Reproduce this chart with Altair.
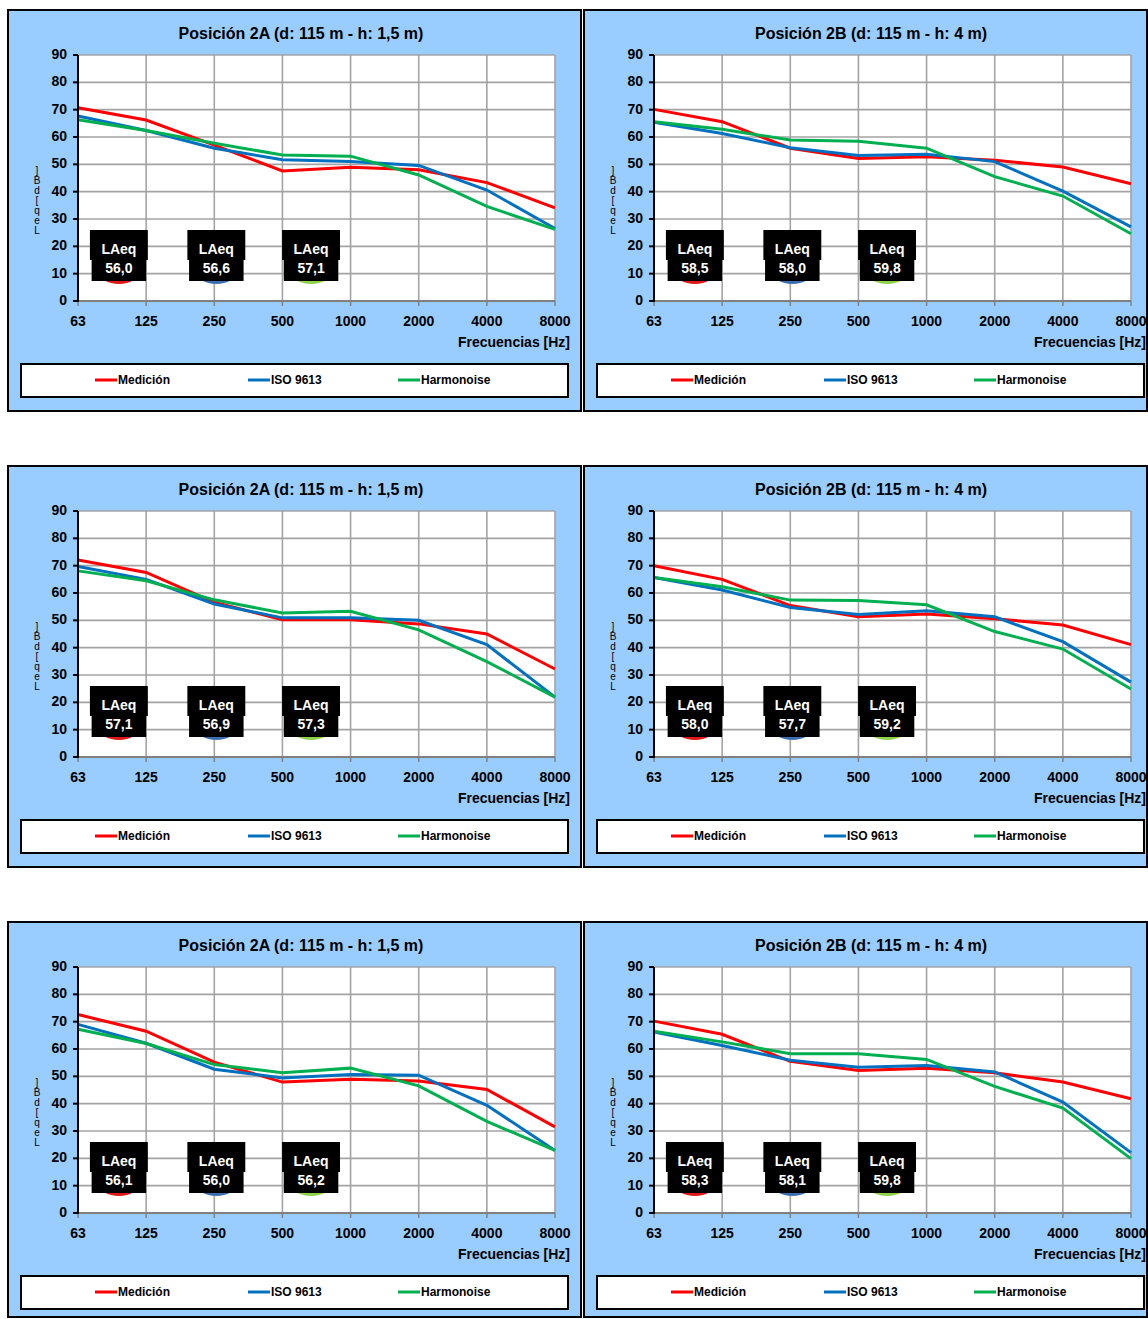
import altair as alt
import pandas as pd

# ---- data -----------------------------------------------------------------
FREQ_LABELS = ["63", "125", "250", "500", "1000", "2000", "4000", "8000"]
SERIES = ["Medición", "ISO 9613", "Harmonoise"]
Y_TICKS = [0, 10, 20, 30, 40, 50, 60, 70, 80, 90]

TITLES = [
    "Posición 2A (d: 115 m - h: 1,5 m)",
    "Posición 2B (d: 115 m - h: 4 m)",
    "Posición 2A (d: 115 m - h: 1,5 m)",
    "Posición 2B (d: 115 m - h: 4 m)",
    "Posición 2A (d: 115 m - h: 1,5 m)",
    "Posición 2B (d: 115 m - h: 4 m)",
]

# Spectra per panel (dB), one value per octave band
MEDICION = [
    [70.7, 66.2, 57.0, 47.6, 48.9, 48.0, 43.3, 34.1],
    [70.1, 65.6, 55.9, 52.1, 52.8, 51.5, 49.0, 42.9],
    [72.1, 67.5, 56.6, 50.2, 50.2, 48.7, 45.0, 32.2],
    [70.0, 65.0, 55.4, 51.3, 52.3, 50.6, 48.3, 41.1],
    [72.6, 66.5, 55.2, 47.9, 48.9, 48.3, 45.2, 31.5],
    [70.2, 65.4, 55.5, 52.1, 53.0, 51.3, 47.9, 41.8],
]
ISO_9613 = [
    [67.7, 62.4, 55.9, 51.7, 51.0, 49.6, 40.6, 26.5],
    [65.4, 61.3, 56.1, 53.2, 53.7, 51.0, 40.2, 27.1],
    [69.7, 65.0, 56.0, 50.9, 50.9, 50.0, 41.1, 21.9],
    [65.7, 61.1, 54.7, 52.1, 53.5, 51.3, 42.2, 27.4],
    [69.0, 62.1, 52.6, 49.4, 50.7, 50.4, 39.4, 22.9],
    [66.2, 61.3, 55.9, 53.3, 54.0, 51.6, 40.6, 22.1],
]
HARMONOISE = [
    [66.3, 62.4, 57.7, 53.4, 53.0, 46.1, 34.6, 26.2],
    [65.6, 62.8, 58.9, 58.4, 55.9, 45.5, 38.4, 24.6],
    [68.1, 64.5, 57.5, 52.7, 53.3, 46.5, 34.9, 21.9],
    [65.7, 62.3, 57.4, 57.3, 55.7, 45.9, 39.5, 24.9],
    [67.2, 62.0, 54.3, 51.3, 53.0, 46.5, 33.5, 22.9],
    [66.5, 62.6, 58.3, 58.3, 56.2, 46.3, 38.4, 19.9],
]
# Global LAeq per panel: Medición, ISO 9613, Harmonoise
LAEQ = [
    [56.0, 56.6, 57.1],
    [58.5, 58.0, 59.8],
    [57.1, 56.9, 57.3],
    [58.0, 57.7, 59.2],
    [56.1, 56.0, 56.2],
    [58.3, 58.1, 59.8],
]

# ---- styling ----------------------------------------------------------------
W, H = 477, 246
FONT = "Liberation Sans, Arial, sans-serif"
NARROW = "Liberation Sans Narrow, Liberation Sans, Arial, sans-serif"
LINE_COLORS = ["#FF0000", "#0070C0", "#00B050"]
BADGE_COLORS = ["#E01818", "#3D6DB3", "#8CD24A"]
BADGE_X = [0.60, 2.03, 3.42]       # badge centres along the band axis
LEGEND_X = [17, 170, 320]          # legend entry offsets inside the box
PANEL_BG = "#99CCFF"
GRID = "#A3A3A3"
AXIS_GRAY = "#808080"

x_scale = alt.Scale(domain=[0, 7], nice=False, zero=False)
y_scale = alt.Scale(domain=[0, 90], nice=False, zero=False)
color_scale = alt.Scale(domain=SERIES, range=LINE_COLORS)
one = pd.DataFrame({"k": [0]})
x_ticks_df = pd.DataFrame({"idx": list(range(len(FREQ_LABELS))), "freq": FREQ_LABELS})
y_ticks_df = pd.DataFrame({"v": Y_TICKS})


def X(field):
    return alt.X(field, scale=x_scale, axis=None)


def Y(field):
    return alt.Y(field, scale=y_scale, axis=None)


def panel(i):
    right = i % 2 == 1
    bottom_row = i >= 4

    rows = []
    for s, vals in zip(SERIES, (MEDICION[i], ISO_9613[i], HARMONOISE[i])):
        for j, v in enumerate(vals):
            rows.append({"idx": j, "freq": FREQ_LABELS[j], "serie": s, "value": v})
    lines_df = pd.DataFrame(rows)

    badges_df = pd.DataFrame({"pos": BADGE_X, "laeq": LAEQ[i], "fillc": BADGE_COLORS})
    badges = alt.Chart(badges_df).transform_calculate(
        txt="replace(format(datum.laeq, '.1f'), '.', ',')",
        ux1="datum.pos - 0.425", ux2="datum.pos + 0.425",
        lx1="datum.pos - 0.40", lx2="datum.pos + 0.40",
        uy1="15", uy2="26", ly1="7.3", ly2="16.5",
        ey="10.6", t1="18.7", t2="11.7",
    )

    # panel frame and white plotting area
    bg = alt.Chart(one).mark_rect(fill=PANEL_BG, stroke="black", strokeWidth=2).encode(
        x=alt.value(-70), x2=alt.value(493 if right else 503),
        y=alt.value(-45), y2=alt.value(350 if bottom_row else 356),
    )
    plot_bg = alt.Chart(one).mark_rect(fill="white").encode(
        x=alt.value(0), x2=alt.value(W), y=alt.value(0), y2=alt.value(H)
    )

    # grid
    grid_h = alt.Chart(y_ticks_df).transform_filter("datum.v > 0").mark_rule(
        color=GRID, strokeWidth=1.6
    ).encode(y=Y("v:Q"))
    grid_v = alt.Chart(x_ticks_df).transform_filter("datum.idx > 0").mark_rule(
        color=GRID, strokeWidth=1.6
    ).encode(x=X("idx:Q"))

    # axes: domain lines, ticks and labels
    x_dom = alt.Chart(one).mark_rule(color=AXIS_GRAY, strokeWidth=2).encode(
        x=alt.value(0), x2=alt.value(W), y=alt.value(H)
    )
    x_tick = alt.Chart(x_ticks_df).mark_rule(color=AXIS_GRAY, strokeWidth=1.5).encode(
        x=X("idx:Q"), y=alt.value(H), y2=alt.value(H + 5)
    )
    x_lab = alt.Chart(x_ticks_df).mark_text(
        font=FONT, fontSize=14, fontWeight="bold", color="black",
        align="center", baseline="middle",
    ).encode(x=X("idx:Q"), y=alt.value(H + 21), text="freq:N")
    y_dom = alt.Chart(one).mark_rule(color="black", strokeWidth=2).encode(
        x=alt.value(0), y=alt.value(0), y2=alt.value(H + 1)
    )
    y_tick = alt.Chart(y_ticks_df).mark_rule(color="black", strokeWidth=2).encode(
        x=alt.value(-5), x2=alt.value(0), y=Y("v:Q")
    )
    y_lab = alt.Chart(y_ticks_df).mark_text(
        font=FONT, fontSize=14, fontWeight="bold", color="black",
        align="right", baseline="middle",
    ).encode(x=alt.value(-11), y=Y("v:Q"), text="v:Q")

    lines = alt.Chart(lines_df).mark_line(strokeWidth=3).encode(
        x=X("idx:Q"),
        y=Y("value:Q"),
        color=alt.Color("serie:N", scale=color_scale, legend=None),
        order=alt.Order("idx:Q"),
    )

    ellipse = "M -1 0 A 1 0.6 0 1 0 1 0 A 1 0.6 0 1 0 -1 0 Z"
    blobs = badges.mark_point(shape=ellipse, filled=True, opacity=1, size=1600).encode(
        x=X("pos:Q"), y=Y("ey:Q"), fill=alt.Fill("fillc:N", scale=None),
    )
    box_up = badges.mark_rect(color="black").encode(
        x=X("ux1:Q"), x2="ux2:Q", y=Y("uy1:Q"), y2="uy2:Q",
    )
    box_low = badges.mark_rect(color="black").encode(
        x=X("lx1:Q"), x2="lx2:Q", y=Y("ly1:Q"), y2="ly2:Q",
    )
    txt_head = badges.mark_text(
        text="LAeq", color="white", font=NARROW, fontSize=14, fontWeight="bold",
        baseline="middle",
    ).encode(x=X("pos:Q"), y=Y("t1:Q"))
    txt_val = badges.mark_text(
        color="white", font=NARROW, fontSize=14, fontWeight="bold", baseline="middle",
    ).encode(x=X("pos:Q"), y=Y("t2:Q"), text="txt:N")

    title = alt.Chart(one).mark_text(
        text=TITLES[i], font=FONT, fontSize=16, fontWeight="bold", color="black",
        align="center", baseline="middle",
    ).encode(x=alt.value(217 if right else 223), y=alt.value(-21))

    # stacked vertical axis caption
    y_title = alt.Chart(one).mark_text(
        text=["]", "B", "d", "[", "q", "e", "L"], font=FONT, fontSize=10,
        lineHeight=10, color="black", align="center", baseline="middle",
    ).encode(x=alt.value(-41), y=alt.value(116))

    x_title = alt.Chart(one).mark_text(
        text="Frecuencias [Hz]", font=FONT, fontSize=14, fontWeight="bold",
        color="black", align="right", baseline="middle",
    ).encode(x=alt.value(492), y=alt.value(288))

    legend_box = alt.Chart(one).mark_rect(fill="white", stroke="black", strokeWidth=2).encode(
        x=alt.value(-57), x2=alt.value(490), y=alt.value(309), y2=alt.value(342)
    )
    legend_layers = []
    for k, s in enumerate(SERIES):
        lx = LEGEND_X[k]
        legend_layers.append(
            alt.Chart(one).mark_rule(color=LINE_COLORS[k], strokeWidth=3).encode(
                x=alt.value(lx), x2=alt.value(lx + 22), y=alt.value(325)
            )
        )
        legend_layers.append(
            alt.Chart(one).mark_text(
                text=s, font=FONT, fontSize=12, fontWeight="bold", color="black",
                align="left", baseline="middle",
            ).encode(x=alt.value(lx + 23), y=alt.value(325))
        )

    return alt.layer(
        bg, plot_bg, grid_h, grid_v, x_dom, x_tick, x_lab,
        lines, blobs, box_up, box_low, txt_head, txt_val,
        y_dom, y_tick, y_lab,
        title, y_title, x_title, legend_box, *legend_layers,
    ).properties(width=W, height=H)


rows = [alt.hconcat(panel(2 * r), panel(2 * r + 1), spacing=1) for r in range(3)]

chart = (
    alt.vconcat(*rows, spacing=53)
    .properties(padding={"left": 7, "top": 9, "right": 0, "bottom": 0}, background="white")
    .configure_view(stroke=None)
)

chart.save("out.html", embed_options={"renderer": "svg", "actions": False})
